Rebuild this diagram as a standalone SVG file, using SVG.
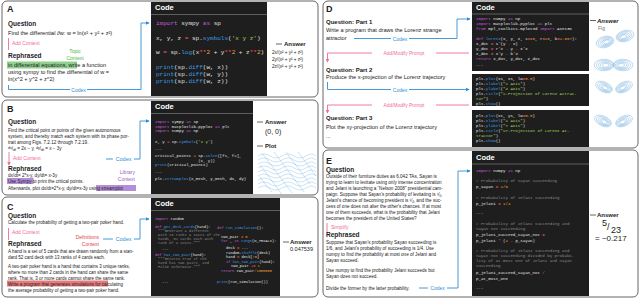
<svg xmlns="http://www.w3.org/2000/svg" width="640" height="299" viewBox="0 0 640 299">
<style>
.t{font-family:"Liberation Sans",Arial,sans-serif;fill:#222}
.b{font-weight:bold}
.m{font-family:"Liberation Mono","DejaVu Sans Mono",monospace;fill:#e4e4e4}
.k{fill:#c35ad8}.f{fill:#3d9be0}.n{fill:#f0a030}.s{fill:#a6d65a}.o{fill:#ff5a5a}.c{fill:#8a8a8a}
.panel{fill:#fff;stroke:#555;stroke-width:0.9}
.code{fill:#1e1e1e}
.hl{stroke:#8a8a8a;stroke-width:0.6}
.ch{font-family:"Liberation Sans",Arial,sans-serif;font-weight:bold;fill:#fff;font-size:7.5px}
.blue{fill:none;stroke:#2f8fd6;stroke-width:0.9}
.pink{fill:none;stroke:#f06a9c;stroke-width:0.9}
.lor{fill:none;stroke:#3a8fd2;stroke-width:0.35;opacity:0.85}
.sp{fill:none;stroke:#6aaee3;stroke-width:0.35}
</style>
<defs>
<marker id="ab" viewBox="0 0 6 6" refX="5" refY="3" markerWidth="4" markerHeight="4" orient="auto"><path d="M0,0L6,3L0,6z" fill="#2f8fd6"/></marker>
<marker id="ap" viewBox="0 0 6 6" refX="5" refY="3" markerWidth="4" markerHeight="4" orient="auto"><path d="M0,0L6,3L0,6z" fill="#f06a9c"/></marker>
<g id="lobe">
<ellipse cx="0" cy="0" rx="9" ry="5.5"/><ellipse cx="0.5" cy="0" rx="7.5" ry="4.5"/><ellipse cx="1" cy="0.2" rx="6" ry="3.5"/><ellipse cx="1.3" cy="0.3" rx="4.5" ry="2.6"/><ellipse cx="1.5" cy="0.3" rx="3" ry="1.8"/>
</g>
</defs>

<!-- Panel A -->
<g id="panelA">
<rect class="panel" x="2" y="1" width="316" height="96" rx="5"/>
<text class="t b" x="7" y="12" font-size="9">A</text>
<text class="t b" x="8" y="26" font-size="6.5">Question</text>
<text class="t" x="8" y="35" font-size="5.6">Find the differential ∂w: w = ln(x² + y² + z²)</text>
<line x1="8.5" y1="38" x2="8.5" y2="50" class="pink"/>
<text class="t" x="12" y="45" font-size="5" style="fill:#f06a9c">Add Context</text>
<text class="t" x="75" y="53" font-size="5" text-anchor="middle" style="fill:#4cbb4c">Topic</text>
<text class="t" x="75" y="60" font-size="5" text-anchor="middle" style="fill:#4cbb4c">Context</text>
<text class="t b" x="8" y="58" font-size="6.5">Rephrased</text>
<rect x="7" y="61.5" width="70" height="7" fill="#8fd08f"/>
<text class="t" x="8" y="67" font-size="5.6">in differential equations, write a function</text>
<text class="t" x="8" y="74" font-size="5.6">using sympy to find the differential of w =</text>
<text class="t" x="8" y="81" font-size="5.6">ln(x^2 + y^2 + z^2)</text>
</g>
<g id="codeA">
<rect class="code" x="151" y="2" width="116" height="94"/>
<text class="ch" x="155" y="10">Code</text>
<line class="hl" x1="151" y1="14.5" x2="267" y2="14.5"/>
<g class="m" font-size="6">
<text x="156" y="25"><tspan class="k">import</tspan> sympy <tspan class="k">as</tspan> sp</text>
<text x="156" y="40">x, y, z <tspan class="o">=</tspan> sp.<tspan class="f">symbols</tspan>(<tspan class="s">'x y z'</tspan>)</text>
<text x="156" y="54">w <tspan class="o">=</tspan> sp.<tspan class="f">log</tspan>(x<tspan class="o">**</tspan><tspan class="n">2</tspan> + y<tspan class="o">**</tspan><tspan class="n">2</tspan> + z<tspan class="o">**</tspan><tspan class="n">2</tspan>)</text>
<text x="156" y="69"><tspan class="f">print</tspan>(sp.<tspan class="f">diff</tspan>(w, x))</text>
<text x="156" y="76"><tspan class="f">print</tspan>(sp.<tspan class="f">diff</tspan>(w, y))</text>
<text x="156" y="83"><tspan class="f">print</tspan>(sp.<tspan class="f">diff</tspan>(w, z))</text>
</g>
</g>
<g id="answerA">
<line x1="276" y1="44" x2="282" y2="44" stroke="#222" stroke-width="0.7"/>
<text class="t b" x="284" y="46" font-size="6">Answer</text>
<text class="t" x="272" y="54" font-size="4.6">2x/(x² + y² + z²)</text>
<text class="t" x="272" y="61" font-size="4.6">2y/(x² + y² + z²)</text>
<text class="t" x="272" y="68" font-size="4.6">2z/(x² + y² + z²)</text>
</g>

<!-- Panel B -->
<g id="panelB">
<rect class="panel" x="2" y="100" width="316" height="95" rx="5"/>
<text class="t b" x="7" y="112" font-size="9">B</text>
<text class="t b" x="8" y="124" font-size="6.5">Question</text>
<g class="t" font-size="4.6">
<text x="8" y="132">Find the critical point or points of the given autonomous</text>
<text x="8" y="138">system, and thereby match each system with its phase por-</text>
<text x="8" y="144">trait among Figs. 7.2.12 through 7.2.19.</text>
<text x="8" y="150"><tspan font-size="3.6" dy="-0.8">dx</tspan><tspan dy="0.8">/</tspan><tspan font-size="3.6" dy="0.8">dt</tspan><tspan dy="-0.8"> = 2x − y,  </tspan><tspan font-size="3.6" dy="-0.8">dy</tspan><tspan dy="0.8">/</tspan><tspan font-size="3.6" dy="0.8">dt</tspan><tspan dy="-0.8"> = x − 3y</tspan></text>
</g>
<line x1="9" y1="152" x2="9" y2="165" class="pink" marker-end="url(#ap)"/>
<text class="t" x="13" y="159.5" font-size="5" style="fill:#f06a9c">Add Context</text>
<text class="t b" x="8" y="171" font-size="6.5">Rephrased</text>
<rect x="7" y="178" width="26.5" height="6" fill="#b48fd8"/>
<rect x="96" y="185" width="40" height="6" fill="#b48fd8"/>
<g class="t" font-size="4.6">
<text x="8" y="177">dx/dt= 2*x-y, dy/dt= x-3y</text>
<text x="8" y="183">Use Sympy to print the critical points.</text>
<text x="8" y="189.5">Afterwards, plot dx/dt=2*x-y, dy/dt=x-3y using streamplot</text>
</g>
<text class="t" x="135" y="174" font-size="5" text-anchor="end" style="fill:#9a5fc0">Library</text>
<text class="t" x="135" y="181" font-size="5" text-anchor="end" style="fill:#9a5fc0">Context</text>
</g>
<g id="codeB">
<rect class="code" x="151" y="101" width="102" height="93"/>
<text class="ch" x="155" y="109">Code</text>
<line class="hl" x1="151" y1="113.5" x2="253" y2="113.5"/>
<g class="m" font-size="4">
<text x="155" y="123"><tspan class="k">import</tspan> sympy <tspan class="k">as</tspan> sp</text>
<text x="155" y="127.5"><tspan class="k">import</tspan> matplotlib.pyplot <tspan class="k">as</tspan> plt</text>
<text x="155" y="132"><tspan class="k">import</tspan> numpy <tspan class="k">as</tspan> np</text>
<text x="155" y="143">x, y <tspan class="o">=</tspan> sp.<tspan class="f">symbols</tspan>(<tspan class="s">'x y'</tspan>)</text>
<text x="155" y="150">...</text>
<text x="155" y="157">critical_points <tspan class="o">=</tspan> sp.<tspan class="f">solve</tspan>([f1, f2],</text>
<text x="155" y="161.5" xml:space="preserve">                  (x, y))</text>
<text x="155" y="166"><tspan class="f">print</tspan>(critical_points)</text>
<text x="155" y="173">...</text>
<text x="155" y="180">plt.<tspan class="f">streamplot</tspan>(x_mesh, y_mesh, dx, dy)</text>
</g>
</g>
<g id="answerB">
<line x1="257" y1="122" x2="263" y2="122" stroke="#222" stroke-width="0.7"/>
<text class="t b" x="265" y="124" font-size="6">Answer</text>
<text class="t" x="265" y="134" font-size="7">(0, 0)</text>
<line x1="257" y1="146" x2="263" y2="146" stroke="#222" stroke-width="0.7"/>
<text class="t b" x="265" y="148" font-size="6">Plot</text>
<g class="sp">
<path d="M258,156 q6,-4 12,0 t12,0 t12,0 t12,0 t10,0"/>
<path d="M258,160 q6,-4 12,0 t12,0 t12,0 t12,0 t10,0"/>
<path d="M258,164 q6,-4 12,0 t12,0 t12,0 t12,0 t10,0"/>
<path d="M258,168 q6,-4 12,0 t12,0 t12,0 t12,0 t10,0"/>
<path d="M258,172 q6,-4 12,0 t12,0 t12,0 t12,0 t10,0"/>
<path d="M258,176 q6,-4 12,0 t12,0 t12,0 t12,0 t10,0"/>
<path d="M258,180 q6,-4 12,0 t12,0 t12,0 t12,0 t10,0"/>
<path d="M258,184 q6,-4 12,0 t12,0 t12,0 t12,0 t10,0"/>
<path d="M258,188 q6,-4 12,0 t12,0 t12,0 t12,0 t10,0"/>
<path d="M262,153 l6,8 l6,8 l6,8 l6,8 l6,8"/>
<path d="M274,152 l6,8 l6,8 l6,8 l6,8 l6,8"/>
<path d="M286,152 l6,8 l6,8 l6,8 l6,8"/>
<path d="M298,152 l6,8 l6,8 l6,8"/>
<path d="M260,165 l6,8 l6,8 l6,8 l4,6"/>
<path d="M260,177 l6,8 l6,7"/>
</g>
</g>

<!-- Panel C -->
<g id="panelC">
<rect class="panel" x="2" y="197" width="316" height="100" rx="5"/>
<text class="t b" x="7" y="209.5" font-size="9">C</text>
<text class="t b" x="8" y="218" font-size="6.5">Question</text>
<text class="t" x="8" y="224" font-size="4.6">Calculate the probability of getting a two-pair poker hand.</text>
<line x1="8.5" y1="228" x2="8.5" y2="240" class="pink"/>
<text class="t" x="12" y="234" font-size="5" style="fill:#f06a9c">Add Context</text>
<text class="t" x="99" y="239" font-size="5" text-anchor="end" style="fill:#e2464f">Definitions</text>
<text class="t" x="99" y="246" font-size="5" text-anchor="end" style="fill:#e2464f">Context</text>
<text class="t b" x="8" y="246" font-size="6.5">Rephrased</text>
<rect x="7" y="280.5" width="101" height="6" fill="#e57b7b"/>
<g class="t" font-size="4.5">
<text x="8" y="253">A hand is a set of 5 cards that are drawn randomly from a stan-</text>
<text x="8" y="259">dard 52 card deck with 13 ranks of 4 cards each.</text>
<text x="8" y="268">A two-pair poker hand is a hand that contains 3 unique ranks,</text>
<text x="8" y="274">where no more than 2 cards in the hand can share the same</text>
<text x="8" y="280">rank. That is, 3 or more cards cannot share the same rank.</text>
<text x="8" y="285.5">Write a program that generates simulations for calculating</text>
<text x="8" y="291.5">the average probability of getting a two-pair poker hand.</text>
</g>
</g>
<g id="codeC">
<rect class="code" x="151" y="198" width="129" height="98"/>
<text class="ch" x="155" y="206">Code</text>
<line class="hl" x1="151" y1="210.5" x2="280" y2="210.5"/>
<g class="m" font-size="3.7">
<text x="155" y="219.5"><tspan class="k">import</tspan> random</text>
<text x="155" y="228"><tspan class="k">def</tspan> <tspan class="f">get_deck_cards</tspan>(hand):</text>
<text x="158" y="232" class="c">"""Generate a different</text>
<text x="158" y="236" class="c">with 13 ranks &amp; suits of the</text>
<text x="158" y="240" class="c">hands, 52 cards each with</text>
<text x="158" y="244" class="c">rank of 4 suits."""</text>
<text x="162" y="250">...</text>
<text x="155" y="256"><tspan class="k">def</tspan> <tspan class="f">has_two_pair</tspan>(hand):</text>
<text x="158" y="260" class="c">"""Returns True if the</text>
<text x="158" y="264" class="c">hand has two pairs, and</text>
<text x="158" y="268" class="c">False otherwise."""</text>
<text x="162" y="283">...</text>
<text x="217" y="228.5"><tspan class="k">def</tspan> <tspan class="f">run_simulation</tspan>():</text>
<text x="221" y="237.5">two_pair <tspan class="o">=</tspan> <tspan class="n">0</tspan></text>
<text x="221" y="242"><tspan class="k">for</tspan> _ <tspan class="k">in</tspan> <tspan class="f">range</tspan>(N_TRIALS):</text>
<text x="226" y="249">deck <tspan class="o">=</tspan> ...</text>
<text x="226" y="253.5">random.<tspan class="f">shuffle</tspan>(deck)</text>
<text x="226" y="258">hand <tspan class="o">=</tspan> deck[:<tspan class="n">5</tspan>]</text>
<text x="226" y="262.5"><tspan class="k">if</tspan> <tspan class="f">has_two_pair</tspan>(hand):</text>
<text x="231" y="267">two_pair <tspan class="o">+=</tspan> <tspan class="n">1</tspan></text>
<text x="221" y="271.5"><tspan class="k">return</tspan> two_pair<tspan class="o">/</tspan><tspan class="n">1000000</tspan></text>
<text x="217" y="283"><tspan class="f">print</tspan>(run_simulation())</text>
</g>
</g>
<g id="answerC">
<line x1="283" y1="242" x2="289" y2="242" stroke="#222" stroke-width="0.7"/>
<text class="t b" x="290" y="244" font-size="6">Answer</text>
<text class="t" x="290" y="251" font-size="5.5">0.047539</text>
</g>

<!-- Panel D -->
<g id="panelD">
<rect class="panel" x="323" y="1" width="315" height="147" rx="5"/>
<text class="t b" x="326" y="12" font-size="9">D</text>
<text class="t b" x="326" y="24" font-size="6">Question: Part 1</text>
<text class="t" x="326" y="32" font-size="5.6">Write a program that draws the Lorenz strange</text>
<text class="t" x="326" y="40" font-size="5.6">attractor</text>
<text class="t b" x="326" y="71.5" font-size="6">Question: Part 2</text>
<text class="t" x="326" y="79" font-size="5.6">Produce the x-projection of the Lorenz trajectory</text>
<text class="t b" x="326" y="120" font-size="6">Question: Part 3</text>
<text class="t" x="326" y="128.5" font-size="5.6">Plot the xy-projection of the Lorenz trajectory</text>
<text class="t" x="326" y="138" font-size="5.6">...</text>
</g>
<g id="codeD">
<rect class="code" x="472" y="2" width="117" height="69"/>
<text class="ch" x="476" y="10">Code</text>
<line class="hl" x1="472" y1="14" x2="589" y2="14"/>
<g class="m" font-size="4.1" xml:space="preserve">
<text x="476" y="20"><tspan class="k">import</tspan> numpy <tspan class="k">as</tspan> np</text>
<text x="476" y="25"><tspan class="k">import</tspan> matplotlib.pyplot <tspan class="k">as</tspan> plt</text>
<text x="476" y="30"><tspan class="k">from</tspan> mpl_toolkits.mplot3d <tspan class="k">import</tspan> Axes3D</text>
<text x="476" y="40"><tspan class="k">def</tspan> <tspan class="f">lorenz</tspan>(x, y, z, s<tspan class="o">=</tspan><tspan class="n">10</tspan>, r<tspan class="o">=</tspan><tspan class="n">28</tspan>, b<tspan class="o">=</tspan><tspan class="n">2.667</tspan>):</text>
<text x="476" y="45">    x_dot <tspan class="o">=</tspan> s<tspan class="o">*</tspan>(y <tspan class="o">-</tspan> x)</text>
<text x="476" y="50">    y_dot <tspan class="o">=</tspan> r<tspan class="o">*</tspan>x <tspan class="o">-</tspan> y <tspan class="o">-</tspan> x<tspan class="o">*</tspan>z</text>
<text x="476" y="55">    z_dot <tspan class="o">=</tspan> x<tspan class="o">*</tspan>y <tspan class="o">-</tspan> b<tspan class="o">*</tspan>z</text>
<text x="476" y="60">    <tspan class="k">return</tspan> x_dot, y_dot, z_dot</text>
<text x="476" y="66">...</text>
</g>
<rect class="code" x="472" y="74" width="117" height="32"/>
<g class="m" font-size="4.1">
<text x="476" y="80">plt.<tspan class="f">plot</tspan>(xs, zs, lw<tspan class="o">=</tspan><tspan class="n">0.5</tspan>)</text>
<text x="476" y="85">plt.<tspan class="f">xlabel</tspan>(<tspan class="s">"X Axis"</tspan>)</text>
<text x="476" y="90">plt.<tspan class="f">ylabel</tspan>(<tspan class="s">"Z Axis"</tspan>)</text>
<text x="476" y="95">plt.<tspan class="f">title</tspan>(<tspan class="s">"X-Projection of Lorenz Attrac-</tspan></text>
<text x="476" y="100"><tspan class="s">tor"</tspan>)</text>
<text x="476" y="104.5">plt.<tspan class="f">show</tspan>()</text>
</g>
<rect class="code" x="472" y="110" width="117" height="37"/>
<g class="m" font-size="4.1">
<text x="476" y="117">plt.<tspan class="f">plot</tspan>(xs, ys, lw<tspan class="o">=</tspan><tspan class="n">0.5</tspan>)</text>
<text x="476" y="122">plt.<tspan class="f">xlabel</tspan>(<tspan class="s">"X Axis"</tspan>)</text>
<text x="476" y="127">plt.<tspan class="f">ylabel</tspan>(<tspan class="s">"Y Axis"</tspan>)</text>
<text x="476" y="132">plt.<tspan class="f">title</tspan>(<tspan class="s">"XY-Projection of Lorenz At-</tspan></text>
<text x="476" y="137"><tspan class="s">tractor"</tspan>)</text>
<text x="476" y="142">plt.<tspan class="f">show</tspan>()</text>
</g>
</g>
<g id="answerD">
<line x1="590" y1="20.5" x2="596" y2="20.5" stroke="#222" stroke-width="0.7"/>
<text class="t b" x="597" y="22.5" font-size="6" font-style="italic">Answer</text>
<text class="t" x="598" y="30" font-size="5" style="fill:#777">Fig</text>
<g class="lor">
<use href="#lobe" transform="translate(605,42) rotate(-15)"/>
<use href="#lobe" transform="translate(625,36) rotate(-15) scale(-1,1)"/>
<use href="#lobe" transform="translate(604,65) scale(1.1,1.05)"/>
<use href="#lobe" transform="translate(623,65) scale(-1.1,1.05)"/>
<use href="#lobe" transform="translate(604,87) rotate(25) scale(1,0.9)"/>
<use href="#lobe" transform="translate(624,87) rotate(-25) scale(-1,0.9)"/>
<use href="#lobe" transform="translate(603,121) rotate(25) scale(1,0.9)"/>
<use href="#lobe" transform="translate(624,121) rotate(-25) scale(-1,0.9)"/>
</g>
</g>

<!-- Panel E -->
<g id="panelE">
<rect class="panel" x="323" y="150" width="315" height="147" rx="5"/>
<text class="t b" x="326" y="164" font-size="9">E</text>
<text class="t b" x="326" y="172" font-size="6.5">Question</text>
<g class="t" font-size="4.6">
<text x="326" y="178">Outside of their furniture duties as 6.042 TAs, Sayan is</text>
<text x="326" y="184">trying to learn to levitate using only intense concentration</text>
<text x="326" y="190">and Jelani is launching a “Nelson 2008” presidential cam-</text>
<text x="326" y="196">paign. Suppose that Sayan's probability of levitating is ¹⁄₆,</text>
<text x="326" y="202">Jelani's chance of becoming president is ¹⁄₄, and the suc-</text>
<text x="326" y="208">cess of one does not alter the other's chances. If at most</text>
<text x="326" y="214">one of them succeeds, what is the probability that Jelani</text>
<text x="326" y="220">becomes the president of the United States?</text>
</g>
<line x1="327" y1="223" x2="327" y2="233" class="pink"/>
<text class="t" x="331" y="229" font-size="5" style="fill:#f06a9c">Simplify</text>
<text class="t b" x="326" y="237" font-size="6.5">Rephrased</text>
<g class="t" font-size="4.6">
<text x="326" y="243.5">Suppose that Sayan's probability Sayan succeeding is</text>
<text x="326" y="249.5">1/6, and Jelani's probability of succeeding is 1/4. Use</text>
<text x="326" y="255.5">numpy to find the probability at most one of Jelani and</text>
<text x="326" y="261.5">Sayan succeed.</text>
<text x="326" y="271.5">Use numpy to find the probability Jelani succeeds but</text>
<text x="326" y="277.5">Sayan does not succeed.</text>
<text x="326" y="289.5">Divide the former by the latter probability.</text>
</g>
</g>
<g id="codeE">
<rect class="code" x="472" y="151" width="117" height="145"/>
<text class="ch" x="476" y="159.5">Code</text>
<line class="hl" x1="472" y1="164" x2="589" y2="164"/>
<g class="m" font-size="4.1" xml:space="preserve">
<text x="476" y="172"><tspan class="k">import</tspan> numpy <tspan class="k">as</tspan> np</text>
<text x="476" y="182" class="c"># Probability of Sayan succeeding</text>
<text x="476" y="188">p_sayan <tspan class="o">=</tspan> <tspan class="n">1/6</tspan></text>
<text x="476" y="198.5" class="c"># Probability of Jelani succeeding</text>
<text x="476" y="204.5">p_jelani <tspan class="o">=</tspan> <tspan class="n">1/4</tspan></text>
<text x="476" y="214">...</text>
<text x="476" y="225" class="c"># Probability of Jelani succeeding and</text>
<text x="476" y="230" class="c">Sayan not succeeding</text>
<text x="476" y="236">p_jelani_succeed_sayan_not <tspan class="o">=</tspan></text>
<text x="476" y="241.5">      p_jelani <tspan class="o">*</tspan> (<tspan class="n">1</tspan> <tspan class="o">-</tspan> p_sayan)</text>
<text x="476" y="252" class="c"># Probability of Jelani succeeding and</text>
<text x="476" y="257" class="c">Sayan not succeeding divided by probabi-</text>
<text x="476" y="262" class="c">lity of at most one of Jelani and Sayan</text>
<text x="476" y="267" class="c">succeeding</text>
<text x="476" y="274">p_jelani_succeed_sayan_not <tspan class="o">/</tspan></text>
<text x="476" y="279.5">      p_at_most_one</text>
<text x="476" y="289">...</text>
</g>
</g>
<g id="answerE">
<line x1="590" y1="215" x2="596" y2="215" stroke="#222" stroke-width="0.7"/>
<text class="t b" x="597" y="217" font-size="6">Answer</text>
<text class="t" x="602" y="226" font-size="9">5</text>
<text class="t" x="607" y="230" font-size="9">/</text>
<text class="t" x="611" y="233" font-size="9">23</text>
<text class="t" x="595" y="241" font-size="8">= ~0.217</text>
</g>

<!-- Connectors -->
<g id="connectors">
<path class="blue" d="M8.5,85 V89.5 H70 M87,89.5 H141 V23 H149" marker-end="url(#ab)"/>
<text class="t" x="78.5" y="91.5" font-size="5" text-anchor="middle" style="fill:#2f8fd6">Codex</text>
<path class="blue" d="M106,159 H113 M134,159 H140 V121 H149" marker-end="url(#ab)"/>
<text class="t" x="123.5" y="161" font-size="5.5" text-anchor="middle" style="fill:#2f8fd6">Codex</text>
<path class="blue" d="M103,239 H113 M134,239 H140 V219 H149" marker-end="url(#ab)"/>
<text class="t" x="123.5" y="241" font-size="5.5" text-anchor="middle" style="fill:#2f8fd6">Codex</text>
<path class="blue" d="M354,38.5 H391 M409,38.5 H457 V19 H470" marker-end="url(#ab)"/>
<text class="t" x="400" y="40.5" font-size="5" text-anchor="middle" style="fill:#2f8fd6">Codex</text>
<path class="pink" d="M469,53 H436 M372,53 H327.5 V62" marker-end="url(#ap)"/>
<text class="t" x="404" y="55" font-size="4.8" text-anchor="middle" style="fill:#f06a9c">Add/Modify Prompt</text>
<path class="blue" d="M327.5,82 V89.5 H391 M409,89.5 H469" marker-end="url(#ab)"/>
<text class="t" x="400" y="91.5" font-size="5" text-anchor="middle" style="fill:#2f8fd6">Codex</text>
<path class="pink" d="M469,105 H436 M372,105 H327.5 V113" marker-end="url(#ap)"/>
<text class="t" x="404" y="107" font-size="4.8" text-anchor="middle" style="fill:#f06a9c">Add/Modify Prompt</text>
<path class="blue" d="M419,288 H428 M447,288 H458 V171 H470" marker-end="url(#ab)"/>
<text class="t" x="437.5" y="290" font-size="5" text-anchor="middle" style="fill:#2f8fd6">Codex</text>
</g>
</svg>
